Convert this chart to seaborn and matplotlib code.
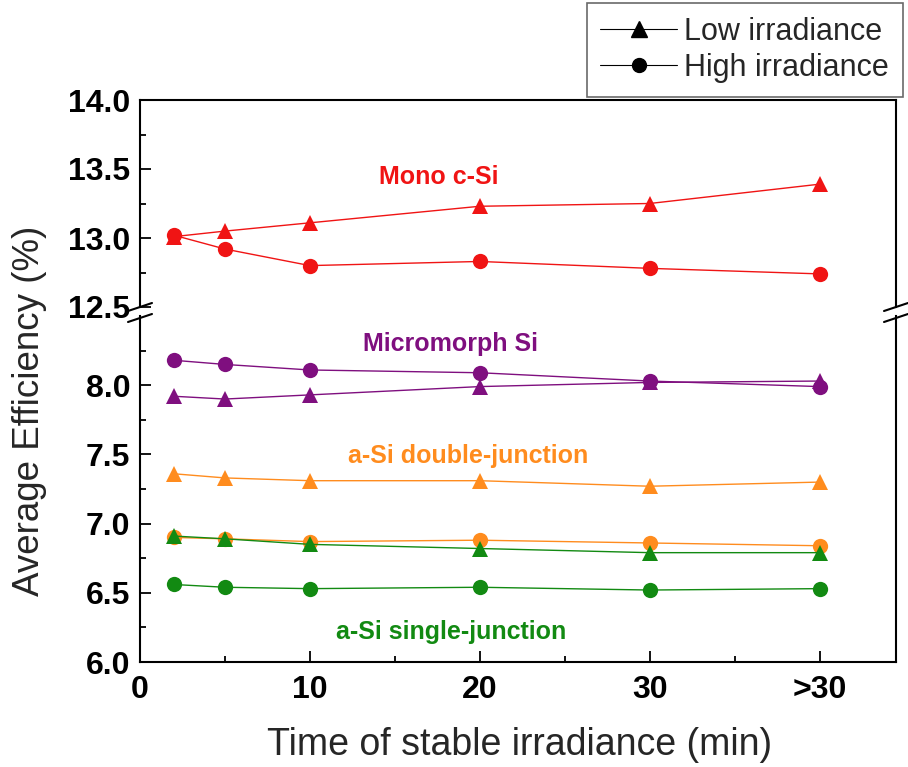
import numpy as np
import pandas as pd
import matplotlib
matplotlib.use("Agg")
import matplotlib.pyplot as plt
from matplotlib.lines import Line2D
import seaborn as sns

# ---------------- data ----------------
times = [2, 5, 10, 20, 30, 40]
xtick_pos = [0, 10, 20, 30, 40]
xtick_labels = ["0", "10", "20", "30", ">30"]

mono_low = [13.01, 13.05, 13.11, 13.23, 13.25, 13.39]
mono_high = [13.02, 12.92, 12.80, 12.83, 12.78, 12.74]
micro_low = [7.92, 7.90, 7.93, 7.99, 8.02, 8.03]
micro_high = [8.18, 8.15, 8.11, 8.09, 8.03, 7.99]
dbl_low = [7.36, 7.33, 7.31, 7.31, 7.27, 7.30]
dbl_high = [6.90, 6.89, 6.87, 6.88, 6.86, 6.84]
sgl_low = [6.91, 6.89, 6.85, 6.82, 6.79, 6.79]
sgl_high = [6.56, 6.54, 6.53, 6.54, 6.52, 6.53]

materials = ["Mono c-Si", "Micromorph Si", "a-Si double-junction", "a-Si single-junction"]
colors = {"Mono c-Si": "#f01414", "Micromorph Si": "#7f0f7f",
          "a-Si double-junction": "#ff8c1e", "a-Si single-junction": "#128a12"}

rows = []
for mat, lo, hi in zip(materials, [mono_low, micro_low, dbl_low, sgl_low],
                       [mono_high, micro_high, dbl_high, sgl_high]):
    for t, v in zip(times, lo):
        rows.append((mat, "Low irradiance", t, v))
    for t, v in zip(times, hi):
        rows.append((mat, "High irradiance", t, v))
df = pd.DataFrame(rows, columns=["material", "irradiance", "time", "eff"])

# ---------------- style ----------------
sns.set_theme(style="ticks")
plt.rcParams["font.family"] = ["Liberation Sans", "DejaVu Sans"]
plt.rcParams["xtick.direction"] = "in"
plt.rcParams["ytick.direction"] = "in"

W, H = 908, 767
fig = plt.figure(figsize=(W / 100, H / 100), dpi=100)
L = 140 / W
Rt = 896 / W
ax_top = fig.add_axes([L, 1 - 307 / H, Rt - L, 207 / H])
ax_bot = fig.add_axes([L, 1 - 662 / H, Rt - L, 346 / H])

for ax in (ax_top, ax_bot):
    sns.lineplot(data=df, x="time", y="eff", hue="material", style="irradiance",
                 markers={"Low irradiance": "^", "High irradiance": "o"},
                 dashes=False, palette=colors, markersize=11, markeredgewidth=0,
                 linewidth=1.0, ax=ax, legend=False, estimator=None, sort=False)
    ax.set_xlim(0, 44.5)
    ax.set_xlabel("")
    ax.set_ylabel("")
    for s in ax.spines.values():
        s.set_linewidth(1.5)
        s.set_color("black")

ax_top.set_ylim(12.5, 14.0)
ax_top.set_yticks([12.5, 13.0, 13.5, 14.0])
ax_top.set_yticks([12.75, 13.25, 13.75], minor=True)
ax_top.set_yticklabels(["12.5", "13.0", "13.5", "14.0"])
ax_top.spines["bottom"].set_visible(False)

ax_bot.set_ylim(6.0, 8.5)
ax_bot.set_yticks([6.0, 6.5, 7.0, 7.5, 8.0])
ax_bot.set_yticks([6.25, 6.75, 7.25, 7.75, 8.25], minor=True)
ax_bot.set_yticklabels(["6.0", "6.5", "7.0", "7.5", "8.0"])
ax_bot.spines["top"].set_visible(False)
ax_bot.set_xticks(xtick_pos)
ax_bot.set_xticks([5, 15, 25, 35], minor=True)
ax_bot.set_xticklabels(xtick_labels)

for ax in (ax_top, ax_bot):
    ax.tick_params(axis="both", which="both", direction="in", width=1.3,
                   colors="black", right=False, top=False)
    ax.tick_params(which="major", length=8)
    ax.tick_params(which="minor", length=4)
    for lab in ax.get_yticklabels() + ax.get_xticklabels():
        lab.set_fontsize(23)
        lab.set_fontweight("bold")
ax_top.tick_params(axis="x", which="both", bottom=False, labelbottom=False)
ax_bot.tick_params(axis="x", pad=9)
ax_top.tick_params(axis="y", pad=7)
ax_bot.tick_params(axis="y", pad=7)

# break marks
for xp in (140, 896):
    for yp in (307, 318):
        fig.add_artist(Line2D([(xp - 12) / W, (xp + 12) / W],
                              [1 - (yp + 4) / H, 1 - (yp - 4) / H],
                              color="black", lw=1.5))

# annotations
ann_font = dict(fontsize=18, fontweight="bold", ha="center", va="center",
                family=["Liberation Sans Narrow", "Liberation Sans", "DejaVu Sans"])
ax_top.text(17.6, 13.44, "Mono c-Si", color=colors["Mono c-Si"], **ann_font)
ax_bot.text(18.3, 8.30, "Micromorph Si", color=colors["Micromorph Si"], **ann_font)
ax_bot.text(19.3, 7.49, "a-Si double-junction", color=colors["a-Si double-junction"], **ann_font)
ax_bot.text(18.3, 6.22, "a-Si single-junction", color=colors["a-Si single-junction"], **ann_font)

# axis labels
fig.text(30 / W, 1 - 411 / H, "Average Efficiency (%)", rotation=90,
         ha="center", va="center", fontsize=26.5)
fig.text(520 / W, 1 - 745 / H, "Time of stable irradiance (min)",
         ha="center", va="center", fontsize=27)

# legend
handles = [Line2D([], [], color="black", lw=0.8, marker="^", markersize=11),
           Line2D([], [], color="black", lw=0.8, marker="o", markersize=10)]
leg = fig.legend(handles, ["Low irradiance", "High irradiance"], loc="upper right",
                 bbox_to_anchor=(903 / W, 1 - 3 / H), fontsize=22, frameon=True,
                 fancybox=False, handlelength=2.5, handletextpad=0.25,
                 borderpad=0.45, labelspacing=0.2, borderaxespad=0)
leg.get_frame().set_edgecolor("#444444")
leg.get_frame().set_linewidth(1.2)

fig.savefig("out.png", dpi=100)
